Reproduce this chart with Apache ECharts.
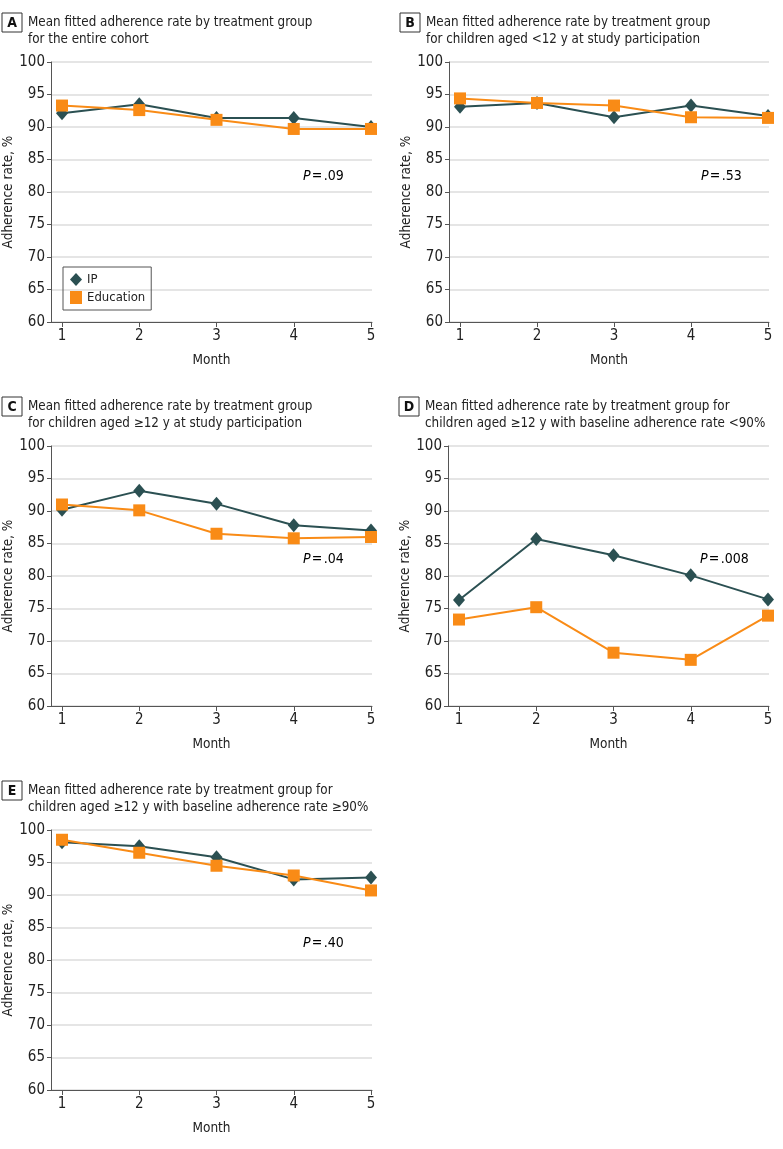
<!DOCTYPE html>
<html><head><meta charset="utf-8">
<script src="https://cdn.jsdelivr.net/npm/echarts@6/dist/echarts.min.js"></script>
<style>html,body{margin:0;padding:0;background:#fff}#c{width:783px;height:1149px}</style>
</head><body><div id="c"></div>
<script>
const months = [1, 2, 3, 4, 5];
const yTicks = [60, 65, 70, 75, 80, 85, 90, 95, 100];
const seriesNames = ['IP', 'Education'];
const ipA = [92.1, 93.5, 91.4, 91.4, 90.0];
const eduA = [93.3, 92.6, 91.1, 89.7, 89.7];
const ipB = [93.1, 93.7, 91.5, 93.3, 91.7];
const eduB = [94.4, 93.7, 93.3, 91.5, 91.4];
const ipC = [90.2, 93.1, 91.1, 87.8, 87.0];
const eduC = [91.0, 90.1, 86.5, 85.8, 86.0];
const ipD = [76.3, 85.7, 83.2, 80.1, 76.4];
const eduD = [73.3, 75.2, 68.2, 67.1, 73.9];
const ipE = [98.1, 97.5, 95.8, 92.4, 92.7];
const eduE = [98.5, 96.5, 94.5, 93.0, 90.7];
const letters = ['A', 'B', 'C', 'D', 'E'];
const titles = [
  ['Mean fitted adherence rate by treatment group', 'for the entire cohort'],
  ['Mean fitted adherence rate by treatment group', 'for children aged <12 y at study participation'],
  ['Mean fitted adherence rate by treatment group', 'for children aged \u226512 y at study participation'],
  ['Mean fitted adherence rate by treatment group for', 'children aged \u226512 y with baseline adherence rate <90%'],
  ['Mean fitted adherence rate by treatment group for', 'children aged \u226512 y with baseline adherence rate \u226590%']
];
const pValues = ['.09', '.53', '.04', '.008', '.40'];
const ipData = [ipA, ipB, ipC, ipD, ipE];
const eduData = [eduA, eduB, eduC, eduD, eduE];

const FONT = '"Liberation Sans Narrow", "DejaVu Sans Condensed", sans-serif';
const IPC = '#2b5052', EDC = '#f98b16', AX = '#555';
const panels = [
  {left: 51, top: 62, width: 321, px: 303, py: 176},
  {left: 449, top: 62, width: 320, px: 701, py: 176},
  {left: 51, top: 446, width: 321, px: 303, py: 559},
  {left: 448, top: 446, width: 321, px: 700, py: 559},
  {left: 51, top: 830, width: 321, px: 303, py: 943}
];
const H = 260;
const FS = 13.5, TFS = 13.3, NFS = 15;
const grid = [], xAxis = [], yAxis = [], series = [], graphic = [];
panels.forEach((p, i) => {
  grid.push({left: p.left, top: p.top, width: p.width, height: H});
  const unit = (p.width - 12) / 4;
  xAxis.push({
    type: 'value', gridIndex: i, min: 1 - 11 / unit, max: 5 + 1 / unit,
    name: 'Month', nameLocation: 'middle', nameGap: 31,
    nameTextStyle: {fontFamily: FONT, fontSize: FS, color: '#222'},
    axisLine: {show: true, lineStyle: {color: AX, width: 1}},
    axisTick: {show: true, length: 5, lineStyle: {color: AX}, customValues: months},
    axisLabel: {customValues: months, fontFamily: FONT, fontSize: NFS, color: '#222', margin: 7},
    splitLine: {show: false}
  });
  yAxis.push({
    type: 'value', gridIndex: i, min: 60, max: 100, interval: 5,
    name: 'Adherence rate, %', nameLocation: 'middle', nameGap: 31,
    nameTextStyle: {fontFamily: FONT, fontSize: FS, color: '#222'},
    axisLine: {show: true, lineStyle: {color: AX, width: 1}},
    axisTick: {show: true, length: 4, lineStyle: {color: AX}},
    axisLabel: {fontFamily: FONT, fontSize: NFS, color: '#222', margin: 6},
    splitLine: {show: true, lineStyle: {color: '#dcdcdc', width: 1.5}}
  });
  series.push({
    name: seriesNames[0], type: 'line', xAxisIndex: i, yAxisIndex: i,
    data: months.map((m, k) => [m, ipData[i][k]]),
    symbol: 'diamond', symbolSize: [12, 14], z: 2,
    lineStyle: {color: IPC, width: 2}, itemStyle: {color: IPC}
  });
  series.push({
    name: seriesNames[1], type: 'line', xAxisIndex: i, yAxisIndex: i,
    data: months.map((m, k) => [m, eduData[i][k]]),
    symbol: 'rect', symbolSize: 12, z: 3,
    lineStyle: {color: EDC, width: 2}, itemStyle: {color: EDC}
  });
  const bx = p.left - 49, by = p.top - 49;
  graphic.push({type: 'rect', shape: {x: bx, y: by, width: 20, height: 19},
    style: {fill: '#fff', stroke: '#333', lineWidth: 1}});
  graphic.push({type: 'text', x: bx + 10, y: by + 10,
    style: {text: letters[i], font: 'bold 14px ' + FONT, fill: '#111', align: 'center', verticalAlign: 'middle'}});
  graphic.push({type: 'text', x: bx + 26, y: p.top - 39,
    style: {text: titles[i][0], font: TFS + 'px ' + FONT, fill: '#222', verticalAlign: 'middle'}});
  graphic.push({type: 'text', x: bx + 26, y: p.top - 22,
    style: {text: titles[i][1], font: TFS + 'px ' + FONT, fill: '#222', verticalAlign: 'middle'}});
  graphic.push({type: 'text', x: p.px, y: p.py,
    style: {text: '{i|P}{n|\u200a=\u200a' + pValues[i] + '}', verticalAlign: 'middle',
      rich: {i: {fontStyle: 'italic', fontFamily: FONT, fontSize: 14, color: '#222'},
             n: {fontFamily: FONT, fontSize: 14, color: '#222'}}}});
});
const chart = echarts.init(document.getElementById('c'), null, {renderer: 'canvas'});
chart.setOption({
  animation: false,
  grid, xAxis, yAxis, series, graphic,
  legend: {
    data: [{name: seriesNames[0], icon: 'diamond'}, {name: seriesNames[1], icon: 'rect'}],
    orient: 'vertical', left: 63, top: 267, itemWidth: 12, itemHeight: 13, itemGap: 5,
    padding: [6, 6, 6, 7], borderColor: AX, borderWidth: 1,
    textStyle: {fontFamily: FONT, fontSize: 13, color: '#222'}
  }
});
</script></body></html>
